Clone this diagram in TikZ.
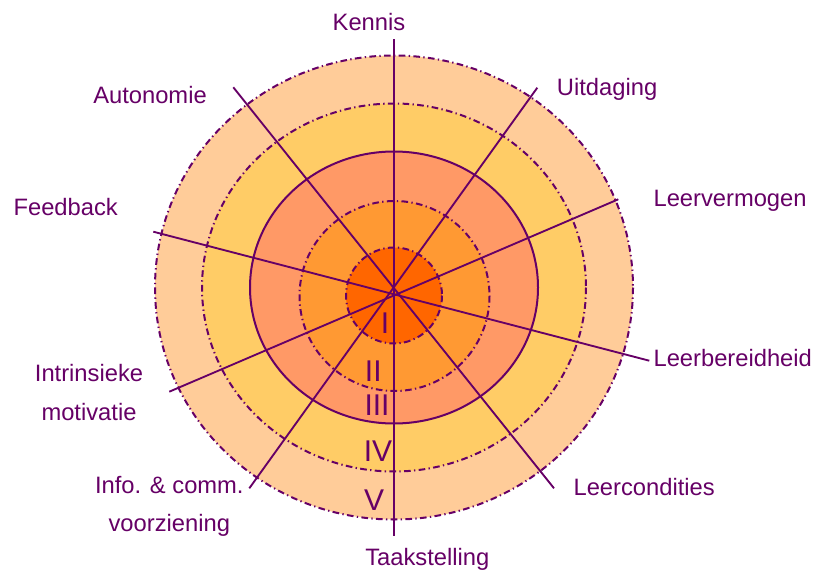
\documentclass[tikz,border=0pt]{standalone}
\usepackage{fontspec}
\setmainfont{Liberation Sans}
\definecolor{pur}{HTML}{660066}
\definecolor{ringA}{HTML}{FFCC99}
\definecolor{ringB}{HTML}{FFCC66}
\definecolor{ringC}{HTML}{FF9966}
\definecolor{ringD}{HTML}{FF9933}
\definecolor{ringE}{HTML}{FF6600}
\begin{document}
\begin{tikzpicture}[x=0.75pt,y=-0.75pt,
  ring/.style={draw=pur,line width=1.5pt},
  dd/.style={dash pattern=on 5pt off 2.5pt on 1pt off 2.5pt},
  spoke/.style={draw=pur,line width=1.4pt},
  lbl/.style={text=pur,font=\fontsize{17.8}{28.7}\selectfont,inner sep=0pt,align=center},
  num/.style={text=pur,font=\fontsize{22.5}{26}\selectfont,inner sep=0pt,anchor=base}]
\useasboundingbox (0,0) rectangle (817,571);
% fills
\fill[ringA] (394,287.5) ellipse [x radius=239, y radius=232];
\fill[ringB] (394,287.5) ellipse [x radius=192, y radius=184];
\fill[ringC] (394,287.5) ellipse [x radius=144, y radius=136];
\fill[ringD] (394.5,296) ellipse [x radius=95, y radius=95];
\fill[ringE] (394,295.5) ellipse [x radius=48, y radius=48];
% outlines
\draw[ring,dd] (394,287.5) ellipse [x radius=239, y radius=232];
\draw[ring,dd] (394,287.5) ellipse [x radius=192, y radius=184];
\draw[ring] (394,287.5) ellipse [x radius=144, y radius=136];
\draw[ring,dd] (394.5,296) ellipse [x radius=95, y radius=95];
\draw[ring,dd] (394,295.5) ellipse [x radius=48, y radius=48];
% spoke ends
\coordinate (kT) at (394,39);
\coordinate (kB) at (394,536);
\coordinate (aT) at (233.3,87.3);
\coordinate (aB) at (554,488.3);
\coordinate (uT) at (537.3,87.7);
\coordinate (uB) at (249.3,488.3);
\coordinate (lvT) at (618.3,199.3);
\coordinate (lvB) at (169.3,391.7);
\coordinate (fT) at (153.3,231.7);
\coordinate (fB) at (649.3,360.7);
\draw[spoke] (kT) -- (kB);
\draw[spoke] (aT) -- (aB);
\draw[spoke] (uT) -- (uB);
\draw[spoke] (lvT) -- (lvB);
\draw[spoke] (fT) -- (fB);
% labels
\node[lbl,anchor=base] (kennis) at (369,31) {Kennis};
\node[lbl,anchor=base west] (uitdaging) at (556.7,95) {Uitdaging};
\node[lbl,anchor=base east] (autonomie) at (207,103.3) {Autonomie};
\node[lbl,anchor=base west] (leervermogen) at (653.3,206.7) {Leervermogen};
\node[lbl,anchor=base west] (feedback) at (13.3,215) {Feedback};
\node[lbl,anchor=base west] (leerbereidheid) at (653.3,366.7) {Leerbereidheid};
\node[lbl,anchor=base] (intrinsiek) at (89,420) {Intrinsieke\\motivatie};
\node[lbl,anchor=base] (info) at (169.3,531.7) {Info. \& comm.\\voorziening};
\node[lbl,anchor=base west] (leercondities) at (573.3,495) {Leercondities};
\node[lbl,anchor=base west] (taakstelling) at (365,565) {Taakstelling};
% numerals
\node[num] (nI) at (385,333.3) {I};
\node[num] (nII) at (373.3,381.7) {II};
\node[num] (nIII) at (377,415) {III};
\node[num] (nIV) at (378,461.7) {IV};
\node[num] (nV) at (374,510) {V};
\end{tikzpicture}
\end{document}
